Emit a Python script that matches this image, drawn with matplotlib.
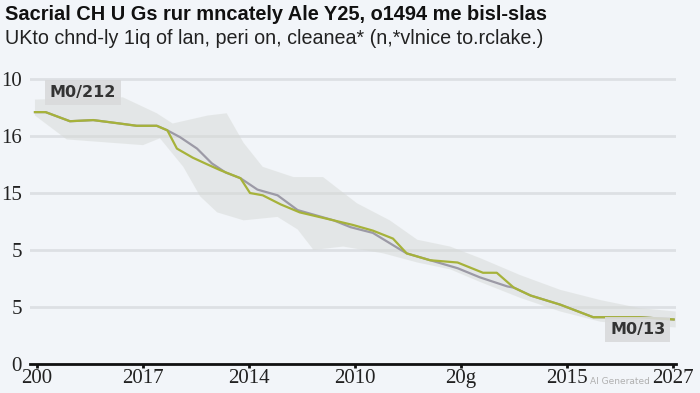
import numpy as np
import matplotlib.pyplot as plt

# tick text, bottom to top for y
x_ticks = [0, 1, 2, 3, 4, 5, 6]
x_labels = ['200', '2017', '2014', '2010', '20g', '2015', '2027']
y_ticks = [0, 5, 10, 15, 20, 25]
y_labels = ['0', '5', '5', '15', '16', '10']

# main (yellow-green) series
main_x = [-0.02, 0.08, 0.31, 0.53, 0.78, 0.94, 1.13, 1.23, 1.32, 1.47, 1.61, 1.73,
          1.92, 2.01, 2.13, 2.30, 2.48, 2.80, 2.98, 3.17, 3.36, 3.49, 3.71, 3.97,
          4.21, 4.34, 4.50, 4.66, 4.94, 5.25, 5.69, 6.01]
main_y = [22.1, 22.1, 21.3, 21.4, 21.1, 20.9, 20.9, 20.5, 18.9, 18.1, 17.5, 17.0,
          16.3, 15.0, 14.8, 14.0, 13.3, 12.6, 12.2, 11.7, 11.0, 9.7, 9.1, 8.9,
          8.0, 8.0, 6.7, 6.0, 5.2, 4.1, 4.1, 3.9]

# secondary (gray) series
alt_x = [-0.02, 0.08, 0.31, 0.53, 0.78, 0.94, 1.13, 1.23, 1.35, 1.51, 1.65, 1.78,
         1.92, 2.08, 2.27, 2.46, 2.80, 2.96, 3.17, 3.40, 3.49, 3.97, 4.18, 4.44,
         4.50, 4.66, 4.94, 5.25, 5.69, 6.01]
alt_y = [22.1, 22.1, 21.3, 21.4, 21.1, 20.9, 20.9, 20.5, 19.9, 18.9, 17.6, 16.8,
         16.3, 15.3, 14.8, 13.5, 12.6, 12.0, 11.5, 10.2, 9.7, 8.4, 7.6, 6.8,
         6.7, 6.0, 5.2, 4.1, 4.1, 3.9]

# shaded range
band_hi_x = [-0.02, 0.81, 1.13, 1.28, 1.61, 1.79, 1.95, 2.13, 2.42, 2.70, 3.02,
             3.33, 3.59, 3.90, 4.18, 4.56, 4.94, 5.32, 5.69, 6.03]
band_hi_y = [23.2, 23.4, 22.0, 21.1, 21.8, 22.0, 19.4, 17.3, 16.4, 16.4, 14.1,
             12.6, 10.9, 10.3, 9.3, 7.8, 6.5, 5.6, 4.9, 4.6]
band_lo_x = [-0.02, 0.28, 1.00, 1.16, 1.38, 1.54, 1.70, 1.95, 2.27, 2.46, 2.61,
             2.89, 3.27, 3.59, 3.90, 4.18, 4.56, 4.94, 5.32, 5.69, 6.03]
band_lo_y = [21.8, 19.7, 19.2, 19.8, 17.3, 14.7, 13.3, 12.6, 12.9, 11.8, 10.0,
             10.3, 9.7, 8.9, 8.3, 7.2, 5.8, 4.6, 3.7, 3.4, 3.2]

bg = '#f2f5f9'
fig = plt.figure(figsize=(7, 3.93), dpi=100, facecolor=bg)
ax = fig.add_axes([0.043, 0.074, 0.923, 0.748])
ax.set_facecolor(bg)

poly_x = band_hi_x + band_lo_x[::-1]
poly_y = band_hi_y + band_lo_y[::-1]
ax.fill(poly_x, poly_y, color='#d6d9d6', alpha=0.5, lw=0, zorder=1)

ax.plot(alt_x, alt_y, color='#9c9aa6', lw=1.6, zorder=3)
ax.plot(main_x, main_y, color='#a6b23a', lw=1.6, zorder=4)

ax.set_xlim(-0.066, 6.034)
ax.set_ylim(0, 25.8)
ax.set_xticks(x_ticks)
ax.set_xticklabels(x_labels, family='Liberation Serif', fontsize=15, color='#222222')
ax.set_yticks(y_ticks)
ax.set_yticklabels(y_labels, family='Liberation Serif', fontsize=15, color='#222222')
ax.tick_params(axis='x', length=3, width=2, color='#111111', pad=1)
ax.tick_params(axis='y', length=0, pad=6)
ax.grid(axis='y', color='#dde0e4', lw=2)
for s in ['top', 'right', 'left']:
    ax.spines[s].set_visible(False)
ax.spines['bottom'].set_linewidth(2)
ax.spines['bottom'].set_color('#111111')
ax.set_axisbelow(True)

ax.text(0.43, 23.8, 'M0/212', ha='center', va='center', fontsize=11.5, fontweight='bold',
        color='#333333', zorder=5,
        bbox=dict(boxstyle='square,pad=0.3', fc='#d9dadb', ec='none', alpha=0.9))
ax.text(5.67, 3.0, 'M0/13', ha='center', va='center', fontsize=11.5, fontweight='bold',
        color='#333333', zorder=5,
        bbox=dict(boxstyle='square,pad=0.3', fc='#d9dadb', ec='none', alpha=0.9))

fig.text(0.007, 0.962, 'Sacrial CH U Gs rur mncately Ale Y25, o1494 me bisl-slas',
         family='Liberation Sans', fontweight='bold', fontsize=14.4,
         color='#111111', va='center')
fig.text(0.007, 0.903, 'UKto chnd-ly 1iq of lan, peri on, cleanea* (n,*vlnice to.rclake.)',
         family='Liberation Sans', fontsize=14.2, color='#222222', va='center')
fig.text(0.928, 0.03, 'AI Generated', fontsize=6.5, color='#b0b0b0', va='center',
         ha='right', zorder=0)

fig.savefig('out.png', dpi=100, facecolor=bg)
